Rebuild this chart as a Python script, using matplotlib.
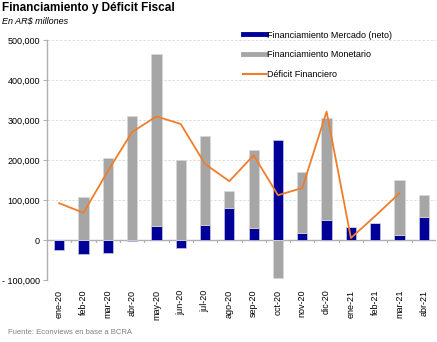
import numpy as np
import matplotlib
matplotlib.use("Agg")
import matplotlib.pyplot as plt
from matplotlib.lines import Line2D
from matplotlib.ticker import FuncFormatter, MultipleLocator

# Datos (ARS millones)
meses = ["ene-20", "feb-20", "mar-20", "abr-20", "may-20", "jun-20", "jul-20", "ago-20",
         "sep-20", "oct-20", "nov-20", "dic-20", "ene-21", "feb-21", "mar-21", "abr-21"]
mercado = [-25000, -35000, -32000, -3000, 35000, -19000, 38000, 80000,
           30000, 251000, 17000, 50000, 32000, 42000, 13000, 57000]
monetario = [0, 107000, 206000, 311000, 431000, 201000, 221000, 42000,
             194000, -95000, 153000, 256000, 0, 0, 137000, 56000]
deficit = [92000, 68000, 172000, 270000, 309000, 290000, 190000, 147000,
           212000, 112000, 130000, 321000, 5000, 60000, 117000, np.nan]

AZUL = "#000099"
GRIS = "#a6a6a6"
NARANJA = "#f07d2a"

plt.rcParams["font.family"] = ["Liberation Sans", "DejaVu Sans"]

fig = plt.figure(figsize=(4.37, 3.42), dpi=100)
ax = fig.add_axes([47 / 437, 1 - 280 / 342, 389 / 437, 240 / 342])

x = np.arange(len(meses))
merc = np.array(mercado, dtype=float)
mon = np.array(monetario, dtype=float)

# apilado estilo Excel: positivos sobre positivos, negativos bajo negativos
base_mon = np.where(mon >= 0, np.clip(merc, 0, None), np.clip(merc, None, 0))
w = 0.42
ax.bar(x, merc, width=w, color=AZUL, edgecolor="#c8c8e0", linewidth=0.5, zorder=3)
ax.bar(x, mon, bottom=base_mon, width=w, color=GRIS, edgecolor="#d8d8d8", linewidth=0.5, zorder=3)
ax.plot(x, deficit, color=NARANJA, linewidth=1.3, zorder=4)

ax.set_xlim(-0.5, len(meses) - 0.5)
ax.set_ylim(-100000, 500000)
ax.yaxis.set_major_locator(MultipleLocator(100000))
ax.yaxis.set_major_formatter(FuncFormatter(lambda v, p: f"{int(v):,}".replace("-", "- ")))
ax.grid(axis="y", color="#d8d8d8", linestyle=(0, (3, 2)), linewidth=0.6, zorder=0)

for s in ["top", "right", "bottom"]:
    ax.spines[s].set_visible(False)
ax.spines["left"].set_color("#b0b0b0")
ax.spines["left"].set_linewidth(1.0)
ax.axhline(0, color="#b0b0b0", linewidth=1.0, zorder=2)

# marcas entre categorias sobre el eje cero
for b in np.arange(0.5, len(meses) - 0.5):
    ax.plot([b, b], [0, -5000], color="#b0b0b0", linewidth=0.8, zorder=2, clip_on=False)

ax.set_xticks(x)
ax.set_xticklabels(meses, rotation=90, fontsize=6.5)
ax.tick_params(axis="x", length=0, pad=7)
ax.tick_params(axis="y", labelsize=6.5, length=3, color="#b0b0b0", pad=2)

handles = [Line2D([], [], color=AZUL, linewidth=3.5),
           Line2D([], [], color=GRIS, linewidth=3.5),
           Line2D([], [], color=NARANJA, linewidth=1.5)]
etiquetas = ["Financiamiento Mercado (neto)", "Financiamiento Monetario", "Déficit Financiero"]
fig.legend(handles, etiquetas, loc="upper left", bbox_to_anchor=(239 / 437, 1 - 27 / 342),
           frameon=False, fontsize=6.5, handlelength=2.6, handletextpad=0.1,
           labelspacing=1.2, borderaxespad=0)

fig.text(2 / 437, 1 - 2 / 342, "Financiamiento y Déficit Fiscal", fontsize=8.5,
         fontweight="bold", va="top", ha="left")
fig.text(2 / 437, 1 - 16 / 342, "En AR$ millones", fontsize=6.5, style="italic",
         va="top", ha="left")
fig.text(8 / 437, 1 - 333 / 342, "Fuente: Econviews en base a BCRA", fontsize=5.5,
         color="#808080", va="center", ha="left")

fig.savefig("out.png", dpi=100)
